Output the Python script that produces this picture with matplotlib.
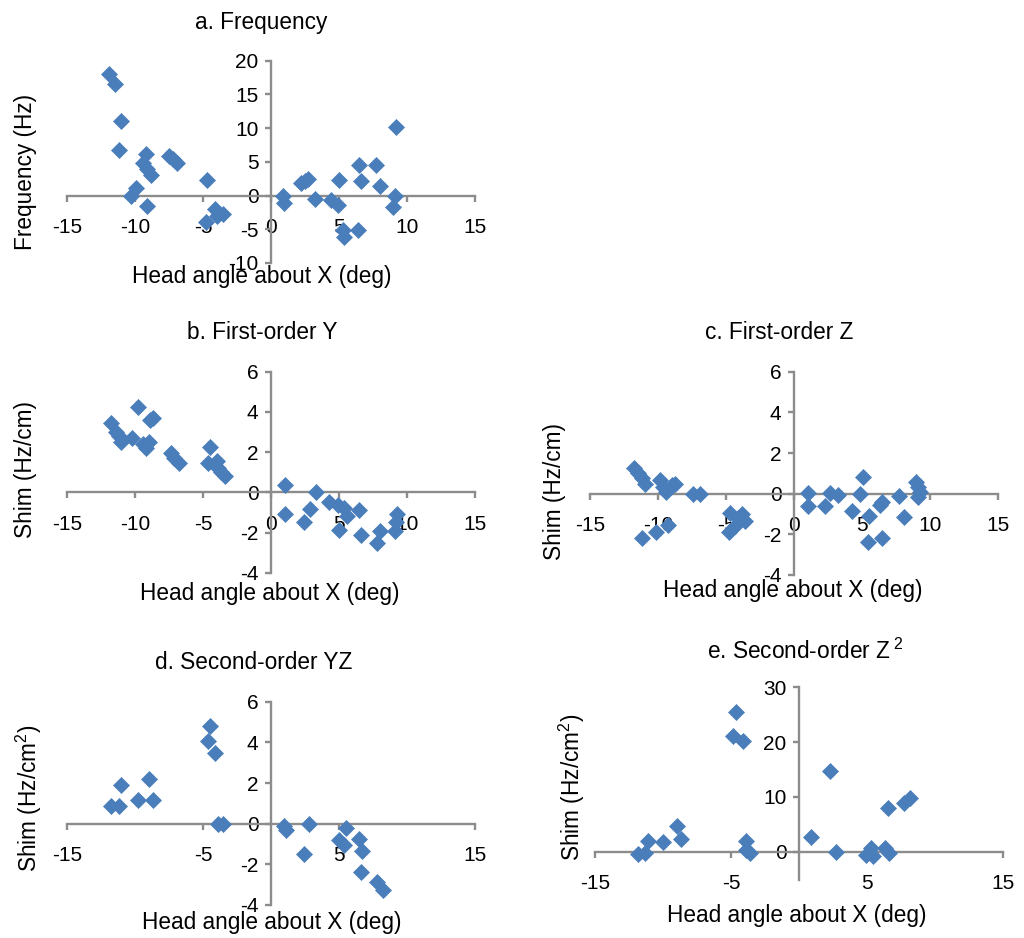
import matplotlib
matplotlib.use('Agg')
import matplotlib.pyplot as plt

plt.rcParams['font.family'] = ['Liberation Sans', 'DejaVu Sans']
plt.rcParams['mathtext.fontset'] = 'custom'
plt.rcParams['mathtext.rm'] = 'Liberation Sans'
plt.rcParams['mathtext.it'] = 'Liberation Sans:italic'
plt.rcParams['mathtext.bf'] = 'Liberation Sans:bold'
plt.rcParams['axes.unicode_minus'] = False

# ---------------- data ----------------
# a. Frequency (Hz)
xa = [-11.9, -11.5, -11.0, -11.2, -10.3, -9.9, -9.2, -9.4, -9.1, -8.8, -9.1,
      -7.5, -7.2, -6.9, -4.7, -4.8, -4.1, -4.0, -3.5,
      0.86, 0.96, 2.2, 2.7, 2.5, 3.2, 4.4, 4.9, 5.0, 5.4, 5.3, 6.5, 6.6, 6.4,
      7.7, 8.0, 9.1, 9.0, 9.2]
ya = [18.0, 16.5, 11.0, 6.8, 0.0, 1.1, 6.1, 4.8, 3.9, 3.1, -1.5,
      5.9, 5.4, 4.8, 2.3, -3.9, -2.0, -3.1, -2.7,
      0.0, -1.1, 1.8, 2.4, 2.1, -0.5, -0.7, -1.4, 2.3, -6.1, -5.1, 4.5, 2.1, -5.1,
      4.6, 1.4, 0.0, -1.7, 10.2]

# b. First-order Y (Hz/cm)
xb = [-11.8, -11.4, -11.2, -11.0, -10.2, -9.8, -9.2, -9.0, -9.4, -8.9, -8.7,
      -7.35, -7.1, -6.8, -4.5, -4.65, -4.0, -3.9, -3.7, -3.4,
      1.0, 1.0, 2.45, 2.9, 3.3, 4.3, 4.9, 5.4, 5.6, 5.0, 6.5, 6.6, 7.8, 8.0,
      9.1, 9.2, 9.3]
yb = [3.43, 3.0, 2.8, 2.5, 2.7, 4.26, 2.2, 2.5, 2.4, 3.6, 3.7,
      1.94, 1.7, 1.45, 2.27, 1.45, 1.56, 1.2, 1.0, 0.8,
      0.36, -1.1, -1.5, -0.85, 0.0, -0.46, -0.63, -0.8, -1.16, -1.87, -0.88, -2.1,
      -2.5, -1.95, -1.95, -1.5, -1.1]

# c. First-order Z (Hz/cm)
xc = [-11.8, -11.45, -11.2, -10.95, -11.2, -10.15, -9.3, -9.85, -9.6, -9.4, -9.0,
      -8.75, -7.4, -6.9, -4.75, -4.7, -4.35, -3.8, -3.6, -4.1,
      1.05, 1.0, 2.3, 2.65, 3.25, 4.24, 5.1, 4.85, 5.5, 5.45, 6.45, 6.5, 6.3,
      7.75, 8.1, 9.0, 9.1, 9.25, 9.1]
yc = [1.25, 1.0, 0.75, 0.5, -2.16, -1.87, -1.54, 0.67, 0.34, 0.1, 0.43,
      0.5, -0.03, -0.03, -1.9, -0.93, -1.6, -1.0, -1.33, -1.2,
      0.05, -0.6, -0.6, 0.05, -0.07, -0.84, 0.8, 0.0, -1.08, -2.4, -2.2, -0.4, -0.56,
      -0.1, -1.13, 0.56, 0.34, 0.1, -0.15]

# d. Second-order YZ (Hz/cm^2)
xd = [-11.75, -11.2, -11.0, -9.8, -9.0, -8.7, -4.5, -4.65, -4.1, -3.9, -3.55,
      0.93, 1.1, 2.45, 2.8, 5.5, 5.0, 5.4, 6.5, 6.7, 6.6, 7.8, 8.2]
yd = [0.87, 0.87, 1.9, 1.16, 2.2, 1.16, 4.8, 4.07, 3.46, 0.0, -0.03,
      -0.1, -0.3, -1.5, 0.0, -0.2, -0.8, -1.05, -0.75, -1.33, -2.36, -2.85, -3.26]

# e. Second-order Z^2 (Hz/cm^2)
xe = [-11.85, -11.35, -11.1, -10.0, -9.0, -8.7, -4.65, -4.85, -4.1, -3.87, -3.87,
      -3.6, 0.9, 2.3, 2.75, 4.95, 5.3, 5.45, 6.3, 6.65, 6.55, 7.75, 8.15]
ye = [-0.4, -0.2, 1.95, 1.8, 4.6, 2.3, 25.4, 21.1, 20.2, 1.95, 0.2,
      -0.2, 2.7, 14.7, 0.0, -0.6, 0.6, -0.9, 0.6, -0.2, 7.9, 8.8, 9.7]

x_ticks_full = [-15, -10, -5, 0, 5, 10, 15]
x_ticks_sparse = [-15, -5, 5, 15]
ya_ticks = [-10, -5, 0, 5, 10, 15, 20]
yshim_ticks = [-4, -2, 0, 2, 4, 6]
ye_ticks = [0, 10, 20, 30]

titles = ['a. Frequency', 'b. First-order Y', 'c. First-order Z',
          'd. Second-order YZ', 'e. Second-order Z$^{\\ 2}$']
ylabels = ['Frequency (Hz)', 'Shim (Hz/cm)', 'Shim (Hz/cm)',
           'Shim (Hz/cm$^{2}$)', 'Shim (Hz/cm$^{2}$)']
xlabel = 'Head angle about X (deg)'

# ---------------- style ----------------
W, H = 1024, 938
BLUE = '#4a7ebb'
AXC = '#8c8c8c'
TICK_FS = 15
LAB_FS = 16.3

fig = plt.figure(figsize=(W / 100, H / 100), dpi=100)


def add_ax(x0, x1, ytop, ybot):
    return fig.add_axes([x0 / W, 1 - ybot / H, (x1 - x0) / W, (ybot - ytop) / H])


def style(ax, xlim, ylim, xticks, yticks):
    ax.set_xlim(xlim)
    ax.set_ylim(ylim)
    for s in ['top', 'right']:
        ax.spines[s].set_visible(False)
    for s in ['left', 'bottom']:
        ax.spines[s].set_position(('data', 0))
        ax.spines[s].set_color(AXC)
        ax.spines[s].set_linewidth(1.7)
    ax.set_xticks(xticks)
    ax.set_yticks(yticks)
    ax.tick_params(axis='x', direction='out', length=4, width=1.7, color=AXC,
                   pad=12, labelsize=TICK_FS)
    ax.tick_params(axis='y', direction='out', length=4, width=1.7, color=AXC,
                   pad=5, labelsize=TICK_FS)
    ax.patch.set_visible(False)


def pts(ax, x, y):
    ax.plot(x, y, 'D', ms=8, color=BLUE, mec=BLUE, mew=0.5, zorder=3,
            clip_on=False)


def ftext(x, y, s, **kw):
    fig.text(x / W, 1 - y / H, s, **kw)


panels = [
    # (x0, x1, ytop, ybot, xlim, ylim, xticks, yticks, x, y)
    (67, 475, 60.7, 263, (-15, 15), (-10, 20), x_ticks_full, ya_ticks, xa, ya),
    (67, 475, 371.7, 572.7, (-15, 15), (-4, 6), x_ticks_full, yshim_ticks, xb, yb),
    (590, 998, 371.7, 575, (-15, 15), (-4, 6), x_ticks_full, yshim_ticks, xc, yc),
    (67, 475, 701.7, 905, (-15, 15), (-4, 6), x_ticks_sparse, yshim_ticks, xd, yd),
    (595, 1003, 687.3, 880, (-15, 15), (-5.2, 30), x_ticks_sparse, ye_ticks, xe, ye),
]

for (x0, x1, yt, yb_, xl, yl, xt, ytk, xs, ys) in panels:
    ax = add_ax(x0, x1, yt, yb_)
    style(ax, xl, yl, xt, ytk)
    pts(ax, xs, ys)

# titles (left x, baseline y)
title_pos = [(195, 28.5), (187, 339), (705, 339), (155, 669), (707, 659)]
for (tx, ty), t in zip(title_pos, titles):
    ftext(tx, ty, t, fontsize=LAB_FS, ha='left', va='baseline')

# x labels (center x, baseline y)
xlab_pos = [(262, 283), (270, 600), (793, 597), (272, 929), (797, 922)]
for (tx, ty) in xlab_pos:
    ftext(tx, ty, xlabel, fontsize=LAB_FS, ha='center', va='baseline')

# y labels (baseline x, center y)
ylab_pos = [(32, 172), (32, 470), (561, 491), (37, 798), (580, 787)]
for (tx, ty), t in zip(ylab_pos, ylabels):
    ftext(tx, ty, t, fontsize=LAB_FS, ha='center', va='baseline', rotation=90,
          rotation_mode='anchor')

fig.savefig('out.png', dpi=100)
